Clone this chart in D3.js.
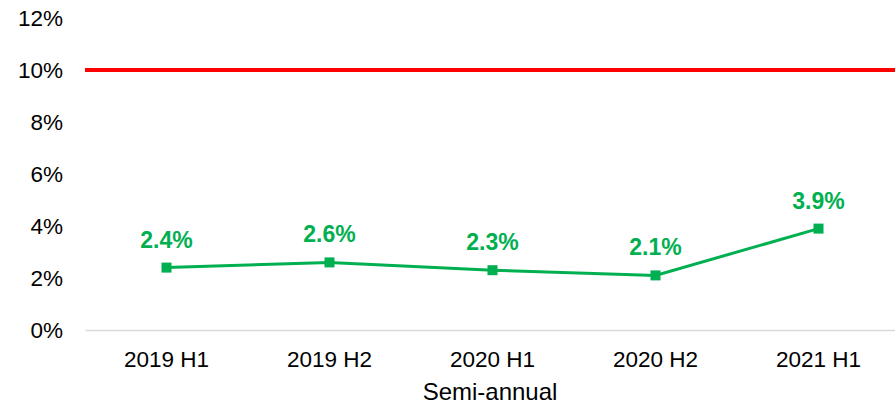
<!DOCTYPE html>
<html>
<head>
<meta charset="utf-8">
<script src="https://cdn.jsdelivr.net/npm/d3@7"></script>
<style>
  body { margin: 0; background: #fff; }
  text { font-family: "Liberation Sans", Arial, sans-serif; }
</style>
</head>
<body>
<div id="chart"></div>
<script>
// data
const categories = ["2019 H1", "2019 H2", "2020 H1", "2020 H2", "2021 H1"];
const rates = [2.4, 2.6, 2.3, 2.1, 3.9];
const threshold = 10;
const yTicks = [0, 2, 4, 6, 8, 10, 12];

// dimensions
const totalWidth = 895, totalHeight = 405;
const margin = { top: 18, right: 0, bottom: 75, left: 85 },
    width = totalWidth - margin.left - margin.right,
    height = totalHeight - margin.top - margin.bottom;

const green = "#00b050";
const tickFont = 22.5;

const svg = d3.select("#chart").append("svg")
    .attr("width", totalWidth)
    .attr("height", totalHeight)
    .append("g")
    .attr("transform", "translate(" + margin.left + "," + margin.top + ")");

// scales (plot area runs slightly past the right edge, as in the original)
const x = d3.scaleBand().domain(categories).range([0, width + 5]);
const y = d3.scaleLinear().domain([0, 12]).range([height, 0]);

// y axis labels
const yAxis = svg.append("g")
    .call(d3.axisLeft(y).tickValues(yTicks).tickFormat(d => d + "%").tickSize(0).tickPadding(22));
yAxis.select(".domain").remove();
yAxis.selectAll("text")
    .attr("font-size", tickFont)
    .attr("fill", "#000")
    .style("font-family", "Liberation Sans, Arial, sans-serif");

// x axis
const xAxis = svg.append("g")
    .attr("transform", "translate(0," + height + ")")
    .call(d3.axisBottom(x).tickSize(0).tickPadding(21));
xAxis.select(".domain").attr("stroke", "#d9d9d9").attr("stroke-width", 1.5);
xAxis.selectAll("text")
    .attr("font-size", tickFont)
    .attr("fill", "#000")
    .style("font-family", "Liberation Sans, Arial, sans-serif");

// axis title
svg.append("text")
    .attr("x", width / 2)
    .attr("y", height + 70)
    .attr("text-anchor", "middle")
    .attr("font-size", 24)
    .attr("fill", "#000")
    .text("Semi-annual");

// threshold line
svg.append("line")
    .attr("x1", 0)
    .attr("x2", width)
    .attr("y1", y(threshold))
    .attr("y2", y(threshold))
    .attr("stroke", "#ff0000")
    .attr("stroke-width", 4);

// series line
const line = d3.line()
    .x((d, i) => x(categories[i]) + x.bandwidth() / 2)
    .y(d => y(d));

svg.append("path")
    .datum(rates)
    .attr("fill", "none")
    .attr("stroke", green)
    .attr("stroke-width", 3)
    .attr("d", line);

// markers
svg.selectAll(".marker")
    .data(rates)
    .enter().append("rect")
    .attr("class", "marker")
    .attr("x", (d, i) => x(categories[i]) + x.bandwidth() / 2 - 5)
    .attr("y", d => y(d) - 5)
    .attr("width", 10)
    .attr("height", 10)
    .attr("fill", green);

// data labels
svg.selectAll(".label")
    .data(rates)
    .enter().append("text")
    .attr("class", "label")
    .attr("x", (d, i) => x(categories[i]) + x.bandwidth() / 2)
    .attr("y", d => y(d) - 20)
    .attr("text-anchor", "middle")
    .attr("font-size", 23)
    .attr("font-weight", "bold")
    .attr("fill", green)
    .text(d => d.toFixed(1) + "%");
</script>
</body>
</html>
